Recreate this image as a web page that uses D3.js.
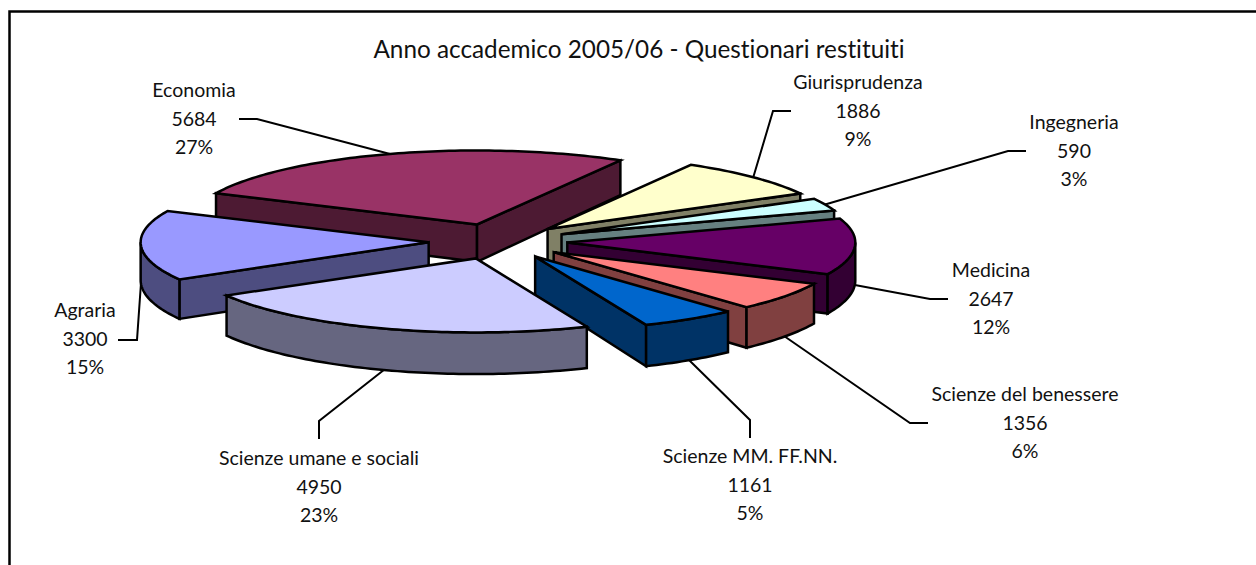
<!DOCTYPE html>
<html>
<head>
<meta charset="utf-8">
<script src="https://cdn.jsdelivr.net/npm/d3@7/dist/d3.min.js"></script>
<style>
  html, body { margin: 0; padding: 0; background: #fff; }
  svg { display: block; }
  text { font-family: Lato, "Open Sans", sans-serif; fill: #111; font-variant-ligatures: none; }
</style>
</head>
<body>
<div id="chart"></div>
<script>
const chartTitle = 'Anno accademico 2005/06 - Questionari restituiti'
const faculties = ['Economia', 'Giurisprudenza', 'Ingegneria', 'Medicina', 'Scienze del benessere', 'Scienze MM. FF.NN.', 'Scienze umane e sociali', 'Agraria']
const questionnaires = [5684, 1886, 590, 2647, 1356, 1161, 4950, 3300]
const percentLabels = ['27%', '9%', '3%', '12%', '6%', '5%', '23%', '15%']
const sliceColors = ['#993366', '#ffffcc', '#ccffff', '#660066', '#ff8080', '#0066cc', '#ccccff', '#9999ff']

// layout of the labels: centre x, first baseline y
const labelX = [194, 858, 1074, 991, 1025, 750, 319, 85]
const labelY = [97, 89, 129, 277, 401, 463, 465, 317]
// leader lines: elbow and end next to the label
const elbows = [[257, 119], [773, 111], [1008, 151], [930, 299], [910, 423], [750, 420], [319, 421], [137, 340]]
const leaderEnds = [[239, 119], [791, 111], [1026, 151], [948, 299], [928, 423], [750, 438], [319, 439], [118, 340]]

const width = 1256
const height = 565
const center = { x: 498, y: 241.5 }
const radius = { x: 288, y: 74 }
const explode = 0.241
const firstAngle = -65 * Math.PI / 180

const svg = d3.select('#chart').append('svg')
  .attr('width', width)
  .attr('height', height)

// the pie plane is a flattened unit circle, so two plain scales do the projection
const x = d3.scaleLinear().domain([-1, 1]).range([center.x - radius.x, center.x + radius.x])
const y = d3.scaleLinear().domain([-1, 1]).range([center.y - radius.y, center.y + radius.y])

const depthAt = py => 38 + (py - center.y) * 0.04

const slices = d3.pie()
  .sort(null)
  .startAngle(firstAngle)
  .endAngle(firstAngle + 2 * Math.PI)(questionnaires)
  .map((d, i) => ({ ...d, i, mid: (d.startAngle + d.endAngle) / 2 }))

// point of slice d at unit distance r along angle a
function point (d, a, r) {
  const ux = explode * Math.sin(d.mid) + r * Math.sin(a)
  const uy = -explode * Math.cos(d.mid) - r * Math.cos(a)
  return [x(ux), y(uy)]
}

const drop = p => [p[0], p[1] + depthAt(p[1])]

function arcPoints (d, a0, a1) {
  const n = Math.max(2, Math.ceil((a1 - a0) / 0.02))
  return d3.range(n + 1).map(k => point(d, a0 + (a1 - a0) * k / n, 1))
}

const line = d3.line()
const closed = pts => line(pts) + 'Z'

// frame: only the top and left edges fall inside the crop
svg.append('path')
  .attr('d', line([[9.5, height], [9.5, 11.5], [width, 11.5]]))
  .attr('fill', 'none')
  .attr('stroke', '#000')
  .attr('stroke-width', 2.5)

svg.append('text')
  .attr('x', 639)
  .attr('y', 58)
  .attr('text-anchor', 'middle')
  .attr('font-size', 24.3)
  .text(chartTitle)

// leaders go under the slices
svg.append('g').selectAll('path')
  .data(slices).enter()
  .append('path')
  .attr('d', d => {
    const rim = point(d, d.mid, 1)
    const start = Math.cos(d.mid) < 0.1 ? drop(rim) : rim
    return line([start, elbows[d.i], leaderEnds[d.i]])
  })
  .attr('fill', 'none')
  .attr('stroke', '#000')
  .attr('stroke-width', 2)

// back to front
const ordered = slices.slice().sort((a, b) => d3.descending(Math.cos(a.mid), Math.cos(b.mid)))

const sliceG = svg.append('g').selectAll('g')
  .data(ordered).enter()
  .append('g')
  .attr('stroke', '#000')
  .attr('stroke-width', 2.5)
  .attr('stroke-linejoin', 'miter')

sliceG.each(function (d) {
  const g = d3.select(this)
  const top = d3.rgb(sliceColors[d.i])
  const side = d3.rgb(top.r / 2, top.g / 2, top.b / 2).formatHex()
  const apex = point(d, 0, 0)
  const a0 = d.startAngle
  const a1 = d.endAngle

  const wall = pts => g.append('path')
    .attr('d', closed(pts.concat(pts.map(drop).reverse())))
    .attr('fill', side)

  if (Math.sin(a0) < 0) wall([apex, point(d, a0, 1)])
  if (Math.sin(a1) > 0) wall([point(d, a1, 1), apex])

  // outer wall shows only on the near half of the rim
  const near = [[Math.PI / 2, 3 * Math.PI / 2], [-3 * Math.PI / 2, -Math.PI / 2]]
  near.forEach(([lo, hi]) => {
    const from = Math.max(a0, lo)
    const to = Math.min(a1, hi)
    if (to > from) wall(arcPoints(d, from, to))
  })

  g.append('path')
    .attr('d', closed([apex].concat(arcPoints(d, a0, a1))))
    .attr('fill', top.formatHex())
})

const labels = svg.append('g').selectAll('text')
  .data(slices).enter()
  .append('text')
  .attr('text-anchor', 'middle')
  .attr('font-size', 19.5)

labels.selectAll('tspan')
  .data(d => [faculties[d.i], questionnaires[d.i], percentLabels[d.i]].map((t, k) => ({ t, k, i: d.i })))
  .enter()
  .append('tspan')
  .attr('x', d => labelX[d.i])
  .attr('y', d => labelY[d.i] + d.k * 28.7)
  .text(d => d.t)
</script>
</body>
</html>
